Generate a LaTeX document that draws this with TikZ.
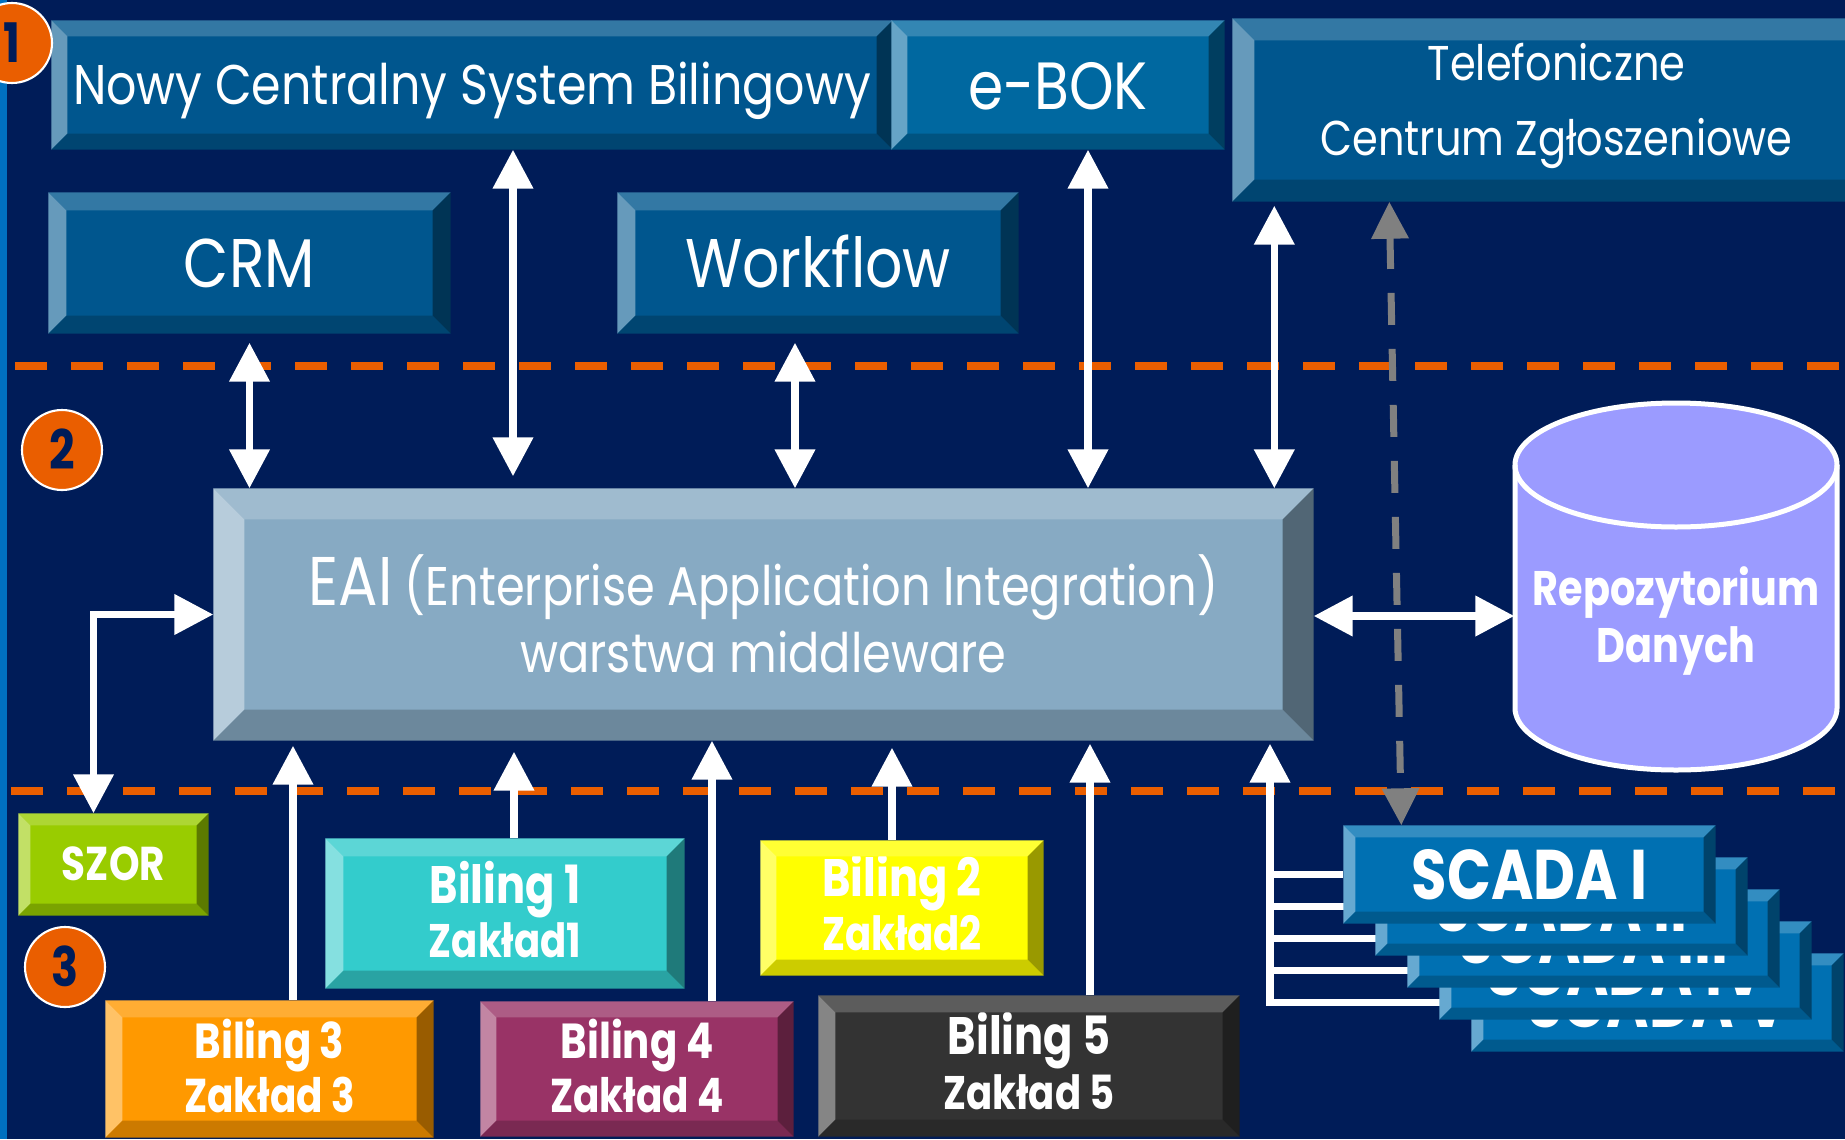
\documentclass[tikz,border=0pt]{standalone}
\usepackage{fontspec}
\setmainfont{Poppins}[UprightFeatures={FakeStretch=0.85}, BoldFeatures={FakeStretch=0.82}]
\usetikzlibrary{arrows.meta}

\definecolor{navy}{RGB}{0,28,88}
\definecolor{stripblue}{RGB}{0,112,192}
\definecolor{sysblue}{RGB}{0,86,142}
\definecolor{bokblue}{RGB}{0,104,160}
\definecolor{eaigrey}{RGB}{135,170,195}
\definecolor{repoviolet}{RGB}{155,155,255}
\definecolor{scadablue}{RGB}{0,112,178}
\definecolor{szorgreen}{RGB}{153,204,0}
\definecolor{bilcyan}{RGB}{51,204,204}
\definecolor{bilyellow}{RGB}{255,255,0}
\definecolor{bilorange}{RGB}{255,153,0}
\definecolor{bilplum}{RGB}{153,51,102}
\definecolor{bildark}{RGB}{51,51,51}
\definecolor{layerorange}{RGB}{234,94,0}
\definecolor{dashgrey}{RGB}{128,128,128}

\pgfdeclarelayer{behind}
\pgfsetlayers{behind,main}

% bevelled edge round a box node: node, bevel size, colour
\newcommand\bevel[3]{%
  \fill[#3!80!white] (#1.north west) -- (#1.north east) -- ([shift={(-#2,-#2)}]#1.north east) -- ([shift={(#2,-#2)}]#1.north west) -- cycle;
  \fill[#3!60!white] (#1.north west) -- ([shift={(#2,-#2)}]#1.north west) -- ([shift={(#2,#2)}]#1.south west) -- (#1.south west) -- cycle;
  \fill[#3!80!black] (#1.south west) -- ([shift={(#2,#2)}]#1.south west) -- ([shift={(-#2,#2)}]#1.south east) -- (#1.south east) -- cycle;
  \fill[#3!60!black] (#1.south east) -- ([shift={(-#2,#2)}]#1.south east) -- ([shift={(-#2,-#2)}]#1.north east) -- (#1.north east) -- cycle;
}

\tikzset{
  box/.style={rectangle, inner sep=0pt, text=white, align=center, text depth=0pt},
  thin/.style={font=\fontsize{#1}{#1}\selectfont},
  heavy/.style={font=\bfseries\fontsize{#1}{#1}\selectfont},
  numc/.style={circle, minimum size=0.8cm, inner sep=0pt, fill=layerorange, draw=white, line width=0.6pt,
    text=navy, font=\bfseries\fontsize{15.5}{16}\selectfont, text height=0.38cm, text depth=0pt},
  wtip/.tip={Triangle[length=3.9mm,width=3.9mm]},
  gtip/.tip={Triangle[length=3.7mm,width=3.6mm]},
  link/.style={draw=white, line width=0.75mm},
  dbl/.style={link, wtip-wtip},
  uplink/.style={link, -wtip},
  greylink/.style={draw=dashgrey, line width=0.7mm, dash pattern=on 3.2mm off 2.4mm, gtip-gtip},
  layerline/.style={draw=layerorange, line width=0.8mm, dash pattern=on 3.2mm off 2.4mm},
}

\begin{document}
\begin{tikzpicture}
  \begin{pgfonlayer}{behind}
    \fill[navy] (0,0) rectangle (18.45,11.39);
    \fill[stripblue] (0,0) rectangle (0.07,11.39);
  \end{pgfonlayer}
  \useasboundingbox (0,0) rectangle (18.45,11.39);

  % layer borders
  \draw[layerline] (0.15,7.73) -- (18.45,7.73);
  \draw[layerline] (0.11,3.48) -- (18.45,3.48);

  % layer 1
  \node[box, fill=sysblue, minimum width=8.40cm, minimum height=1.28cm, text height=0.39cm, thin=15.9] (ncsb) at (4.72,10.54) {Nowy Centralny System Bilingowy};
  \bevel{ncsb}{0.16}{sysblue}
  \node[box, fill=bokblue, minimum width=3.32cm, minimum height=1.28cm, text height=0.48cm, thin=19] (ebok) at (10.58,10.54) {e-BOK};
  \bevel{ebok}{0.16}{bokblue}
  \node[box, fill=sysblue, minimum width=6.47cm, minimum height=1.82cm, text height=1.08cm, text depth=0.18cm,
    font=\fontsize{13.9}{21.3}\selectfont] (tel) at (15.565,10.29) {Telefoniczne\\Centrum Zgłoszeniowe};
  \bevel{tel}{0.22}{sysblue}
  \node[box, fill=sysblue, minimum width=4.01cm, minimum height=1.40cm, text height=0.48cm, thin=19.6] (crm) at (2.495,8.76) {CRM};
  \bevel{crm}{0.18}{sysblue}
  \node[box, fill=sysblue, minimum width=4.00cm, minimum height=1.40cm, text height=0.48cm, thin=19.6] (wf) at (8.18,8.76) {Workflow};
  \bevel{wf}{0.18}{sysblue}

  % layer 2
  \node[box, fill=eaigrey, minimum width=10.99cm, minimum height=2.51cm, text height=1.15cm,
    font=\fontsize{15.5}{18.8}\selectfont] (eai) at (7.635,5.245)
    {{\fontsize{19.6}{19}\selectfont EAI} (Enterprise Application Integration)\\warstwa middleware};
  \bevel{eai}{0.31}{eaigrey}

  \fill[repoviolet, draw=white, line width=0.5mm] (15.15,6.74) -- (15.15,4.31)
    arc[start angle=180, end angle=360, x radius=1.61, y radius=0.62] -- (18.37,6.74)
    arc[start angle=0, end angle=180, x radius=1.61, y radius=0.62] -- cycle;
  \draw[white, line width=0.5mm] (15.15,6.74) arc[start angle=180, end angle=360, x radius=1.61, y radius=0.62];
  \node[box, minimum width=3.22cm, text height=0.92cm, font=\bfseries\fontsize{13.8}{16.2}\selectfont] (repo) at (16.76,5.23) {Repozytorium\\Danych};

  % layer 3
  \node[box, fill=szorgreen, minimum width=1.89cm, minimum height=1.01cm, text height=0.31cm, heavy=13.5] (szor) at (1.135,2.745) {SZOR};
  \bevel{szor}{0.12}{szorgreen}
  \node[box, fill=bilcyan, minimum width=3.58cm, minimum height=1.49cm, text height=0.875cm,
    font=\bfseries\fontsize{13.4}{15.4}\selectfont] (bil1) at (5.05,2.255) {{\fontsize{15}{15}\selectfont Biling 1}\\Zakład1};
  \bevel{bil1}{0.18}{bilcyan}
  \node[box, fill=bilyellow, minimum width=2.82cm, minimum height=1.34cm, text height=0.855cm,
    font=\bfseries\fontsize{13.4}{15.4}\selectfont] (bil2) at (9.02,2.31) {{\fontsize{15}{15}\selectfont Biling 2}\\Zakład2};
  \bevel{bil2}{0.16}{bilyellow}
  \node[box, fill=bilorange, minimum width=3.27cm, minimum height=1.36cm, text height=0.86cm,
    font=\bfseries\fontsize{13.5}{15.2}\selectfont] (bil3) at (2.695,0.70) {{\fontsize{14}{14}\selectfont Biling 3}\\Zakład 3};
  \bevel{bil3}{0.17}{bilorange}
  \node[box, fill=bilplum, minimum width=3.12cm, minimum height=1.34cm, text height=0.86cm,
    font=\bfseries\fontsize{13.5}{15.2}\selectfont] (bil4) at (6.37,0.70) {{\fontsize{14}{14}\selectfont Biling 4}\\Zakład 4};
  \bevel{bil4}{0.16}{bilplum}
  \node[box, fill=bildark, minimum width=4.20cm, minimum height=1.40cm, text height=0.86cm,
    font=\bfseries\fontsize{13.4}{15.4}\selectfont] (bil5) at (10.29,0.73) {{\fontsize{15}{15}\selectfont Biling 5}\\Zakład 5};
  \bevel{bil5}{0.17}{bildark}

  \foreach \i/\r in {5/V,4/IV,3/III,2/II,1/I} {
    \node[box, fill=scadablue, minimum width=3.71cm, minimum height=0.97cm, text height=0.49cm, heavy=20]
      (sc\i) at ({15.295+0.32*(\i-1)},{2.645-0.32*(\i-1)}) {SCADA \r};
    \bevel{sc\i}{0.12}{scadablue}
  }

  % layer numbers
  \node[numc] (n1) at (0.12,10.96) {1};
  \node[numc] (n2) at (0.62,6.89) {2};
  \node[numc] (n3) at (0.65,1.72) {3};

  % connectors, top
  \draw[dbl, shorten <=0.09cm] (crm.south) -- (crm.south |- eai.north);
  \draw[dbl, shorten >=0.12cm] ([xshift=0.41cm]ncsb.south) -- ([xshift=0.41cm]ncsb.south |- eai.north);
  \draw[dbl, shorten <=0.09cm] ([xshift=-0.23cm]wf.south) -- ([xshift=-0.23cm]wf.south |- eai.north);
  \draw[dbl] ([xshift=0.30cm]ebok.south) -- ([xshift=0.30cm]ebok.south |- eai.north);
  \draw[dbl, shorten <=0.04cm] ([xshift=0.42cm]tel.south west) -- ([xshift=0.42cm]tel.south west |- eai.north);
  \draw[greylink] ([xshift=1.57cm]tel.south west) -- ([xshift=0.58cm]sc1.north west);
  \draw[dbl] (eai.east |- repo.west) -- (repo.west);

  % connectors, bottom
  \draw[dbl] ([xshift=-0.2cm]szor.north) |- (eai.west);
  \draw[uplink, shorten >=0.05cm] ([xshift=0.235cm]bil3.north) -- ([xshift=0.235cm]bil3.north |- eai.south);
  \draw[uplink, shorten >=0.11cm] ([xshift=0.09cm]bil1.north) -- ([xshift=0.09cm]bil1.north |- eai.south);
  \draw[uplink] ([xshift=0.75cm]bil4.north) -- ([xshift=0.75cm]bil4.north |- eai.south);
  \draw[uplink, shorten >=0.07cm] ([xshift=-0.10cm]bil2.north) -- ([xshift=-0.10cm]bil2.north |- eai.south);
  \draw[uplink, shorten >=0.03cm] ([xshift=0.61cm]bil5.north) -- ([xshift=0.61cm]bil5.north |- eai.south);
  \coordinate (bus) at (12.70,1.33);
  \draw[uplink, shorten >=0.03cm] (bus) -- (bus |- eai.south);
  \begin{pgfonlayer}{behind}
    \foreach \i in {1,...,5}
      \draw[link] (bus |- sc\i.west) -- (sc\i.west);
  \end{pgfonlayer}
\end{tikzpicture}
\end{document}
